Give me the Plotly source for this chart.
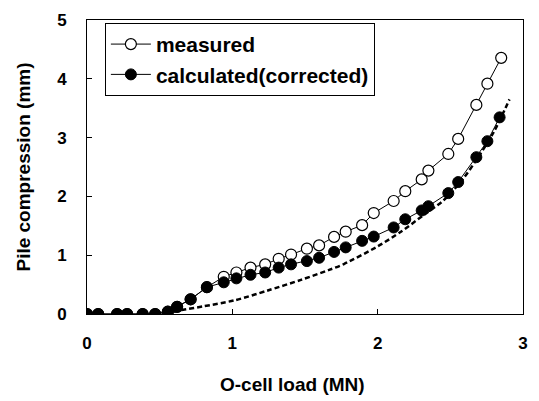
import plotly.graph_objects as go

# Measured (open circles)
load_meas = [0.0, 0.077, 0.207, 0.276, 0.383, 0.469, 0.556, 0.620, 0.713, 0.825,
             0.941, 1.028, 1.125, 1.226, 1.319, 1.404, 1.513, 1.597, 1.700, 1.780,
             1.893, 1.973, 2.110, 2.190, 2.303, 2.349, 2.486, 2.554, 2.679, 2.755, 2.850]
comp_meas = [0.0, 0.0, 0.0, 0.0, 0.0, 0.0, 0.039, 0.122, 0.25, 0.456,
             0.633, 0.706, 0.789, 0.844, 0.939, 1.011, 1.111, 1.167, 1.311, 1.40,
             1.511, 1.717, 1.922, 2.089, 2.289, 2.439, 2.722, 2.978, 3.556, 3.917, 4.356]

# Calculated (corrected) (filled circles)
load_calc = [0.0, 0.077, 0.207, 0.276, 0.383, 0.469, 0.556, 0.620, 0.713, 0.825,
             0.941, 1.028, 1.125, 1.226, 1.319, 1.404, 1.513, 1.597, 1.700, 1.780,
             1.893, 1.973, 2.110, 2.190, 2.303, 2.349, 2.486, 2.554, 2.679, 2.755, 2.839]
comp_calc = [0.0, 0.0, 0.0, 0.0, 0.0, 0.0, 0.039, 0.122, 0.25, 0.456,
             0.539, 0.606, 0.667, 0.706, 0.789, 0.844, 0.90, 0.956, 1.056, 1.133,
             1.244, 1.317, 1.472, 1.611, 1.761, 1.833, 2.056, 2.244, 2.667, 2.939, 3.344]

# Dashed curve
load_dash = [0.595, 0.651, 0.80, 1.016, 1.244, 1.472, 1.666, 1.768, 2.0, 2.16, 2.315, 2.452, 2.588, 2.679, 2.80, 2.907]
comp_dash = [0.04, 0.067, 0.13, 0.233, 0.40, 0.58, 0.75, 0.85, 1.15, 1.40, 1.68, 1.93, 2.30, 2.62, 3.10, 3.65]

x_ticks = [0, 1, 2, 3]
y_ticks = [0, 1, 2, 3, 4, 5]

FONT = "Liberation Sans, Arial, sans-serif"

fig = go.Figure()
fig.add_trace(go.Scatter(
    x=load_dash, y=comp_dash, mode="lines",
    line=dict(color="black", width=2.5, dash="5px,3px", shape="spline", smoothing=0.8),
    showlegend=False, hoverinfo="skip"))
fig.add_trace(go.Scatter(
    x=load_meas, y=comp_meas, mode="lines+markers", name="measured",
    line=dict(color="black", width=1),
    marker=dict(symbol="circle", size=11, color="white", line=dict(color="black", width=1.2))))
fig.add_trace(go.Scatter(
    x=load_calc, y=comp_calc, mode="lines+markers", name="calculated(corrected)",
    line=dict(color="black", width=1),
    marker=dict(symbol="circle", size=11, color="black", line=dict(color="black", width=1))))

axis_common = dict(
    showgrid=False, zeroline=False, showline=True, linecolor="black", linewidth=1,
    mirror=True, ticks="inside", ticklen=5, tickcolor="black",
    tickfont=dict(family=FONT, size=17, color="black", weight="bold"),
)

fig.update_layout(
    width=539, height=401,
    margin=dict(l=87, r=11, t=14, b=87),
    paper_bgcolor="white", plot_bgcolor="white",
    font=dict(family=FONT, color="black"),
    xaxis=dict(range=[0, 3.0], tickvals=x_ticks, ticklabelstandoff=14, **axis_common),
    yaxis=dict(range=[0, 5], tickvals=y_ticks, ticklabelstandoff=16,
               title=dict(text="Pile compression (mm)", standoff=21,
                          font=dict(family=FONT, size=19, color="black", weight="bold")),
               **axis_common),
    legend=dict(x=0.041, y=0.99, xanchor="left", yanchor="top",
                bgcolor="white", bordercolor="black", borderwidth=1,
                font=dict(family=FONT, size=21, color="black", weight="bold"),
                itemwidth=40, tracegroupgap=0),
    annotations=[dict(text="O-cell load (MN)", xref="paper", yref="paper",
                      x=0.472, y=-0.24, xanchor="center", yanchor="middle", showarrow=False,
                      font=dict(family=FONT, size=19, color="black", weight="bold"))],
)

fig.write_html("out.html")
